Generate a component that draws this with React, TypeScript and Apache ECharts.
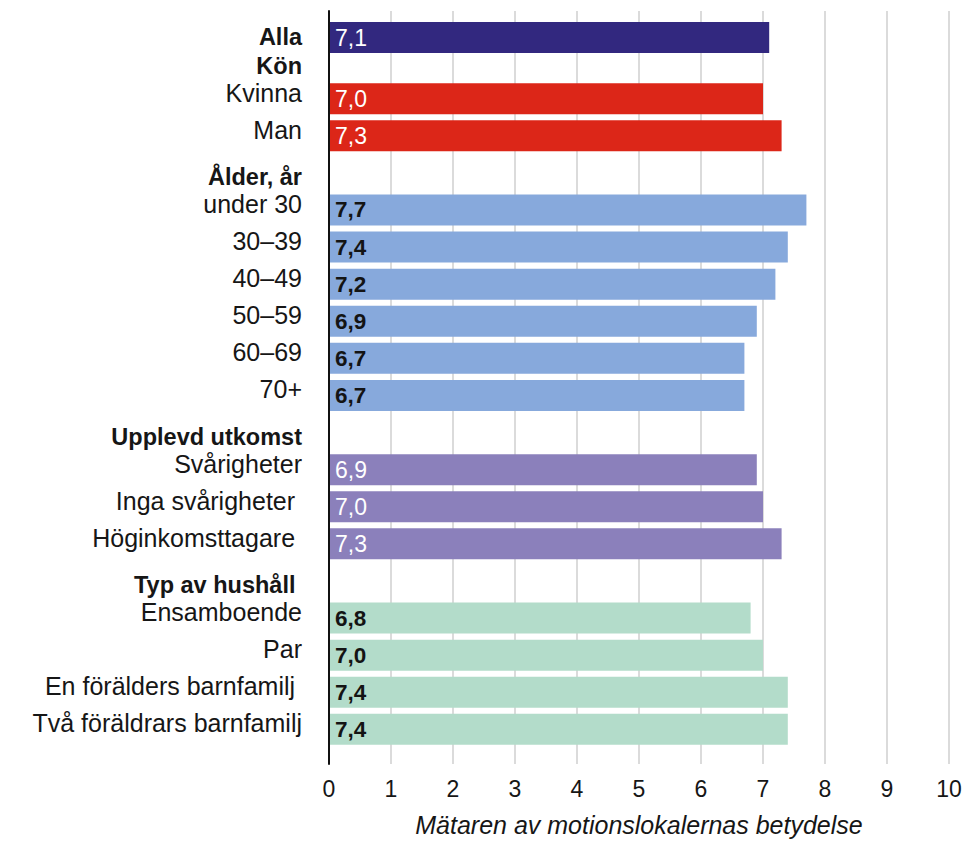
import React, { useEffect, useRef } from 'react';
import * as echarts from 'echarts';

// ---- Data ----
const totalCategories = ['Alla'];
const totalValues = [7.1];

const genderHeader = 'Kön';
const genderCategories = ['Kvinna', 'Man'];
const genderValues = [7.0, 7.3];

const ageHeader = 'Ålder, år';
const ageCategories = ['under 30', '30–39', '40–49', '50–59', '60–69', '70+'];
const ageValues = [7.7, 7.4, 7.2, 6.9, 6.7, 6.7];

const incomeHeader = 'Upplevd utkomst';
const incomeCategories = ['Svårigheter', 'Inga svårigheter ', 'Höginkomsttagare '];
const incomeValues = [6.9, 7.0, 7.3];

const householdHeader = 'Typ av hushåll ';
const householdCategories = ['Ensamboende', 'Par', 'En förälders barnfamilj ', 'Två föräldrars barnfamilj'];
const householdValues = [6.8, 7.0, 7.4, 7.4];

const axisMin = 0;
const axisMax = 10;
const axisStep = 1;
const axisTitle = 'Mätaren av motionslokalernas betydelse';

// ---- Styles ----
const FONT = '"Liberation Sans", Arial, sans-serif';
const TEXT = '#161616';
const palette = {
  total: { bar: '#32287f', label: '#ffffff', weight: 'normal', size: 23 },
  gender: { bar: '#dc2618', label: '#ffffff', weight: 'normal', size: 23 },
  age: { bar: '#87a9dc', label: '#141414', weight: 'bold', size: 22.5 },
  income: { bar: '#8b80bb', label: '#ffffff', weight: 'normal', size: 23 },
  household: { bar: '#b3dcca', label: '#141414', weight: 'bold', size: 22.5 },
};

const groups = [
  { header: genderHeader, cats: genderCategories, vals: genderValues, key: 'gender' },
  { header: ageHeader, cats: ageCategories, vals: ageValues, key: 'age' },
  { header: incomeHeader, cats: incomeCategories, vals: incomeValues, key: 'income' },
  { header: householdHeader, cats: householdCategories, vals: householdValues, key: 'household' },
];

const headerSet = new Set<string>(groups.map((g) => g.header));

const itemFor = (v: number, p: any) => ({
  value: v,
  itemStyle: { color: p.bar },
  label: { color: p.label, fontWeight: p.weight, fontSize: p.size },
});

const mainCategories: string[] = [];
const mainData: any[] = [];
groups.forEach((g) => {
  mainCategories.push(g.header);
  mainData.push('-');
  const p = (palette as any)[g.key];
  g.cats.forEach((c, i) => {
    mainCategories.push(c);
    mainData.push(itemFor(g.vals[i], p));
  });
});

const totalData = totalValues.map((v) => itemFor(v, palette.total));

const fmtVal = (p: any) => Number(p.value).toFixed(1).replace('.', ',');

const richLabels = {
  h: { fontFamily: FONT, fontSize: 23.5, fontWeight: 'bold', color: TEXT, padding: [8, 0, 0, 0] },
  a: { fontFamily: FONT, fontSize: 23.5, fontWeight: 'bold', color: TEXT, padding: [0, 0, 2, 0] },
  r: { fontFamily: FONT, fontSize: 25, color: TEXT, padding: [0, 0, 12, 0] },
};

const LEFT = 329;
const RIGHT = 978 - 949;
const BAND = 37.1;
const BAR = 31;

export default function App() {
  const ref = useRef<HTMLDivElement>(null);
  useEffect(() => {
    if (!ref.current) return;
    const chart = echarts.init(ref.current, null, { renderer: 'svg' });
    const valueLabel = {
      show: true,
      position: 'insideLeft',
      distance: 6,
      formatter: fmtVal,
      fontFamily: FONT,
      fontSize: 23,
    };
    chart.setOption({
      animation: false,
      textStyle: { fontFamily: FONT },
      grid: [
        { left: LEFT, right: RIGHT, top: 11, height: 759, containLabel: false },
        { left: LEFT, right: RIGHT, top: 19, height: BAND, containLabel: false },
        { left: LEFT, right: RIGHT, top: 43, height: BAND * mainCategories.length, containLabel: false },
      ],
      xAxis: [
        {
          gridIndex: 0,
          type: 'value',
          min: axisMin,
          max: axisMax,
          interval: axisStep,
          axisLine: { show: false },
          axisTick: { show: false },
          splitLine: { show: true, lineStyle: { color: '#d2d2d2', width: 1.6 } },
          axisLabel: { fontFamily: FONT, fontSize: 23, color: TEXT, margin: 13 },
          name: axisTitle,
          nameLocation: 'middle',
          nameGap: 48,
          nameTextStyle: { fontFamily: FONT, fontSize: 25, fontStyle: 'italic', color: TEXT },
        },
        { gridIndex: 1, type: 'value', min: axisMin, max: axisMax, show: false },
        { gridIndex: 2, type: 'value', min: axisMin, max: axisMax, show: false },
      ],
      yAxis: [
        {
          gridIndex: 0,
          type: 'value',
          min: 0,
          max: 1,
          z: 10,
          axisLine: { show: true, lineStyle: { color: '#111111', width: 2 } },
          axisTick: { show: false },
          axisLabel: { show: false },
          splitLine: { show: false },
        },
        {
          gridIndex: 1,
          type: 'category',
          inverse: true,
          data: totalCategories,
          axisLine: { show: false },
          axisTick: { show: false },
          axisLabel: { margin: 27, formatter: (v: string) => `{a|${v}}`, rich: richLabels },
        },
        {
          gridIndex: 2,
          type: 'category',
          inverse: true,
          data: mainCategories,
          axisLine: { show: false },
          axisTick: { show: false },
          axisLabel: {
            margin: 27,
            interval: 0,
            formatter: (v: string) => (headerSet.has(v) ? `{h|${v}}` : `{r|${v}}`),
            rich: richLabels,
          },
        },
      ],
      series: [
        {
          type: 'bar',
          xAxisIndex: 1,
          yAxisIndex: 1,
          barWidth: BAR,
          data: totalData,
          label: valueLabel,
        },
        {
          type: 'bar',
          xAxisIndex: 2,
          yAxisIndex: 2,
          barWidth: BAR,
          data: mainData,
          label: valueLabel,
        },
      ],
    });
    return () => chart.dispose();
  }, []);
  return (
    <div
      ref={ref}
      style={{ position: 'absolute', left: 0, top: 0, width: 978, height: 842, background: '#ffffff' }}
    />
  );
}
